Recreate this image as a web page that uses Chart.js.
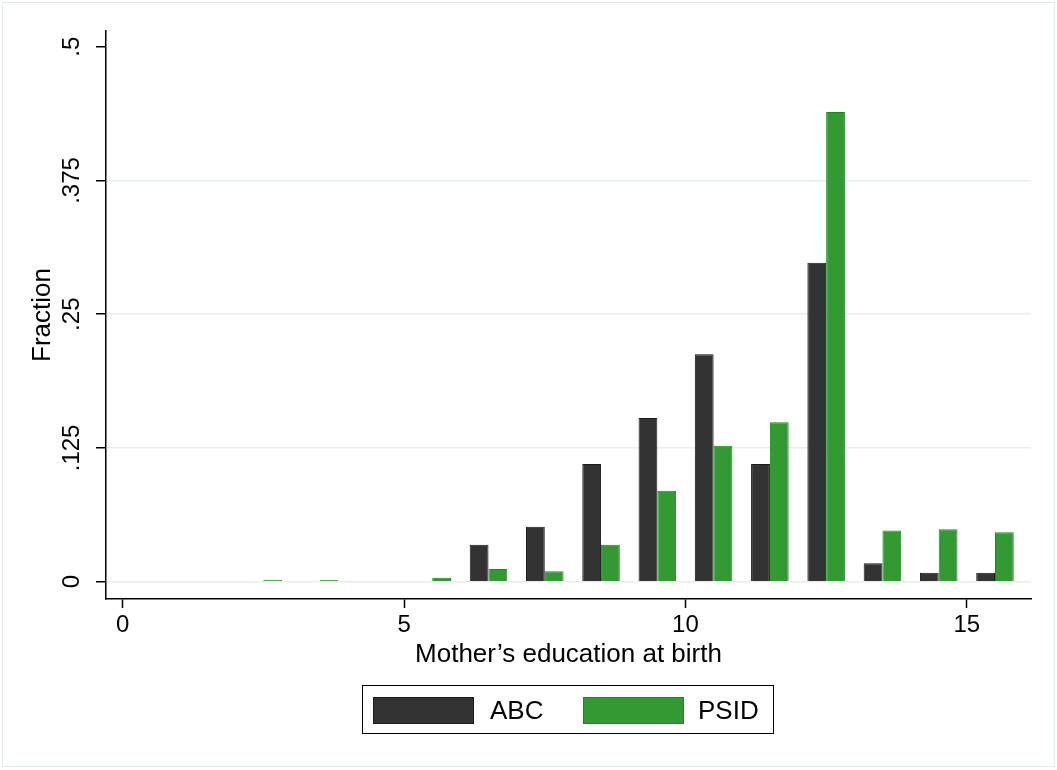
<!DOCTYPE html>
<html>
<head>
<meta charset="utf-8">
<title>Mother's education at birth</title>
<script src="https://cdn.jsdelivr.net/npm/chart.js@4.4.1/dist/chart.umd.min.js"></script>
<style>
  body { margin: 0; background: #fff; }
  #wrap { position: relative; width: 1057px; height: 770px; font-family: 'Liberation Sans', Arial, Helvetica, sans-serif; }
  #frame { position: absolute; left: 2px; top: 2px; width: 1051px; height: 763px; border: 1px solid #e2eaec; pointer-events: none; }
  #legendBox { position: absolute; left: 362px; top: 685px; width: 410px; height: 47px; border: 1.5px solid #000; }
  .swatch { position: absolute; top: 697px; width: 99px; height: 25px; border: 1px solid; }
  .label { position: absolute; top: 697px; font-size: 26px; line-height: 26px; color: #000; white-space: nowrap; }
</style>
</head>
<body>
<div id="wrap">
  <canvas id="histChart" width="1057" height="770"></canvas>
  <div id="frame"></div>
  <div id="legendBox"></div>
  <div class="swatch" style="left:373px; background:#333333; border-color:#1a1a1a;"></div>
  <div class="label" style="left:490px;">ABC</div>
  <div class="swatch" style="left:583px; background:#339a33; border-color:#1a8a1a;"></div>
  <div class="label" style="left:698px;">PSID</div>
</div>
<script>
// bin centres (years of schooling) and fraction of each sample
const binCenters = [2.5, 3.5, 4.5, 5.5, 6.5, 7.5, 8.5, 9.5, 10.5, 11.5, 12.5, 13.5, 14.5, 15.5];
const abcFraction = [null, null, null, null, 0.0344, 0.0513, 0.110, 0.153, 0.2125, 0.110, 0.298, 0.0172, 0.0084, 0.0084];
const psidFraction = [0.0018, 0.0018, null, 0.0037, 0.0119, 0.0097, 0.0344, 0.085, 0.127, 0.149, 0.439, 0.0478, 0.049, 0.0463];

const xTicks = [0, 5, 10, 15];
const yTicks = [0, 0.125, 0.25, 0.375, 0.5];
const yTickLabels = ['0', '.125', '.25', '.375', '.5'];

const fontFamily = "'Liberation Sans', Arial, Helvetica, sans-serif";

function toPoints(values) {
  return binCenters.map((x, i) => ({ x: x, y: values[i] }));
}

const ctx = document.getElementById('histChart');

new Chart(ctx, {
  type: 'bar',
  data: {
    datasets: [
      {
        label: 'ABC',
        data: toPoints(abcFraction),
        backgroundColor: '#333333',
        borderColor: '#1a1a1a',
        borderWidth: 1,
      },
      {
        label: 'PSID',
        data: toPoints(psidFraction),
        backgroundColor: '#339a33',
        borderColor: '#1a8a1a',
        borderWidth: 1,
      },
    ],
  },
  options: {
    responsive: false,
    animation: false,
    devicePixelRatio: 1,
    categoryPercentage: 0.667,
    barPercentage: 1.0,
    layout: {
      padding: { left: 0, top: 31, right: 26, bottom: 91 },
    },
    plugins: {
      legend: { display: false },
      tooltip: { enabled: false },
    },
    scales: {
      x: {
        type: 'linear',
        min: -0.297,
        max: 16.14,
        offset: false,
        afterBuildTicks: scale => {
          scale.ticks = xTicks.map(v => ({ value: v }));
        },
        afterFit: scale => {
          scale.height = 80;
        },
        border: { display: true, color: '#000', width: 1.5 },
        grid: {
          offset: false,
          drawOnChartArea: false,
          drawTicks: true,
          tickLength: 9,
          tickColor: '#000',
          tickWidth: 1.5,
        },
        ticks: {
          color: '#000',
          padding: 3,
          maxRotation: 0,
          autoSkip: false,
          font: { family: fontFamily, size: 24 },
          callback: value => String(value),
        },
        title: {
          display: true,
          text: 'Mother\u2019s education at birth',
          color: '#000',
          font: { family: fontFamily, size: 26 },
          padding: { top: 0, bottom: 9 },
        },
      },
      y: {
        type: 'linear',
        min: -0.0162,
        max: 0.5147,
        afterBuildTicks: scale => {
          scale.ticks = yTicks.map(v => ({ value: v }));
        },
        afterFit: scale => {
          scale.width = 106;
        },
        border: { display: true, color: '#000', width: 1.5 },
        grid: {
          color: c => (c.tick && c.tick.value === 0.5 ? 'rgba(0,0,0,0)' : '#e5eef0'),
          lineWidth: 1.5,
          drawTicks: true,
          tickLength: 10,
          tickColor: '#000',
          tickWidth: 1.5,
        },
        ticks: {
          color: '#000',
          padding: 0,
          minRotation: 90,
          maxRotation: 90,
          crossAlign: 'center',
          autoSkip: false,
          font: { family: fontFamily, size: 24 },
          callback: (value, index) => yTickLabels[index],
        },
        title: {
          display: true,
          text: 'Fraction',
          color: '#000',
          font: { family: fontFamily, size: 26 },
          padding: { top: 27, bottom: 0 },
        },
      },
    },
  },
});
</script>
</body>
</html>
